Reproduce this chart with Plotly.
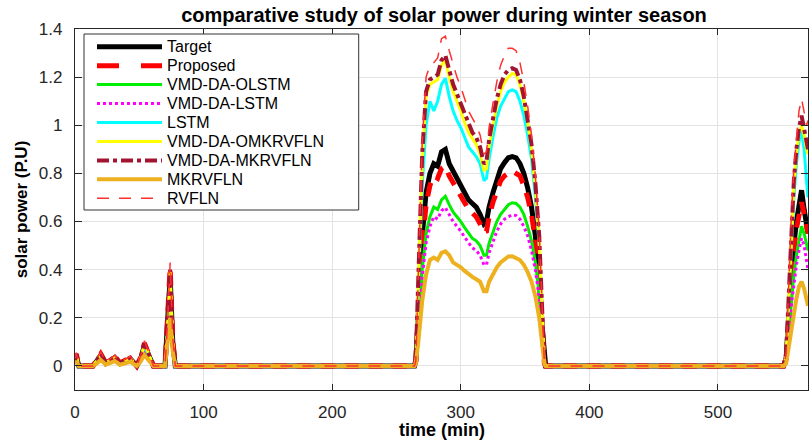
import plotly.graph_objects as go

# ---------------- data ----------------
time_min = [0, 1, 3, 14, 17, 20, 24, 27, 31, 35, 39, 43, 48, 51, 54, 57, 61, 70, 72, 74, 76, 78,
            264, 265, 267, 270, 273, 276, 279, 282, 285, 288,
            291, 294, 297, 300, 303, 306, 309, 312, 315, 318,
            320, 322, 325, 328, 331, 334, 337, 340, 343, 346,
            349, 352, 355, 358, 361, 363, 365, 366,
            551, 553, 555, 557, 559, 561, 563, 565, 567, 569, 570]

target = [0.02, 0.04, 0.0, 0.0, 0.02, 0.045, 0.01, 0.02, 0.035, 0.01, 0.02, 0.03, 0.0, 0.03, 0.085, 0.05, 0.0, 0.0, 0.15, 0.37, 0.10, 0.0,
          0, 0.02, 0.22, 0.54, 0.72, 0.80, 0.84, 0.83, 0.89, 0.90,
          0.84, 0.81, 0.78, 0.76, 0.72, 0.69, 0.675, 0.66, 0.63, 0.59,
          0.60, 0.66, 0.72, 0.78, 0.82, 0.845, 0.865, 0.87, 0.865, 0.84,
          0.80, 0.74, 0.66, 0.54, 0.38, 0.18, 0.01, 0,
          0, 0.03, 0.20, 0.38, 0.50, 0.60, 0.68, 0.73, 0.65, 0.58, 0.55]

proposed = [0.02, 0.05, 0.0, 0.0, 0.025, 0.05, 0.012, 0.022, 0.04, 0.012, 0.022, 0.035, 0.0, 0.035, 0.095, 0.055, 0.0, 0.0, 0.17, 0.41, 0.11, 0.0,
            0, 0.02, 0.20, 0.50, 0.67, 0.75, 0.79, 0.78, 0.82, 0.83,
            0.79, 0.76, 0.73, 0.71, 0.68, 0.65, 0.635, 0.62, 0.59, 0.555,
            0.56, 0.62, 0.68, 0.73, 0.77, 0.79, 0.80, 0.81, 0.80, 0.79,
            0.75, 0.70, 0.63, 0.52, 0.37, 0.17, 0.01, 0,
            0, 0.03, 0.19, 0.36, 0.48, 0.57, 0.64, 0.68, 0.63, 0.57, 0.55]

vmd_da_olstm = [0.01, 0.03, 0.0, 0.0, 0.015, 0.035, 0.008, 0.015, 0.028, 0.008, 0.015, 0.024, 0.0, 0.025, 0.065, 0.04, 0.0, 0.0, 0.12, 0.30, 0.08, 0.0,
                0, 0.01, 0.15, 0.40, 0.55, 0.62, 0.66, 0.65, 0.69, 0.705,
                0.67, 0.64, 0.62, 0.60, 0.575, 0.55, 0.53, 0.52, 0.50, 0.46,
                0.46, 0.51, 0.56, 0.60, 0.63, 0.65, 0.67, 0.678, 0.675, 0.66,
                0.63, 0.58, 0.52, 0.43, 0.30, 0.15, 0.01, 0,
                0, 0.02, 0.14, 0.28, 0.38, 0.46, 0.53, 0.58, 0.55, 0.50, 0.48]

vmd_da_lstm = [0.01, 0.03, 0.0, 0.0, 0.014, 0.032, 0.007, 0.014, 0.026, 0.007, 0.014, 0.022, 0.0, 0.023, 0.06, 0.036, 0.0, 0.0, 0.11, 0.28, 0.07, 0.0,
               0, 0.01, 0.13, 0.37, 0.51, 0.58, 0.62, 0.61, 0.645, 0.658,
               0.63, 0.60, 0.58, 0.56, 0.535, 0.51, 0.49, 0.48, 0.46, 0.42,
               0.42, 0.47, 0.52, 0.56, 0.59, 0.61, 0.62, 0.628, 0.625, 0.61,
               0.58, 0.54, 0.48, 0.40, 0.28, 0.14, 0.01, 0,
               0, 0.02, 0.12, 0.25, 0.34, 0.42, 0.48, 0.53, 0.50, 0.43, 0.40]

lstm = [0.02, 0.04, 0.0, 0.0, 0.02, 0.045, 0.01, 0.02, 0.035, 0.01, 0.02, 0.03, 0.0, 0.03, 0.085, 0.05, 0.0, 0.0, 0.15, 0.36, 0.10, 0.0,
        0, 0.02, 0.30, 0.75, 1.00, 1.10, 1.06, 1.10, 1.17, 1.195,
        1.12, 1.06, 1.02, 0.99, 0.95, 0.91, 0.89, 0.87, 0.84, 0.77,
        0.78, 0.86, 0.95, 1.03, 1.08, 1.11, 1.14, 1.147, 1.14, 1.10,
        1.04, 0.96, 0.86, 0.70, 0.50, 0.25, 0.01, 0,
        0, 0.04, 0.28, 0.52, 0.70, 0.84, 0.93, 0.98, 0.90, 0.76, 0.70]

vmd_da_omkrvfln = [0.02, 0.045, 0.0, 0.0, 0.022, 0.05, 0.012, 0.022, 0.038, 0.012, 0.022, 0.033, 0.0, 0.033, 0.09, 0.055, 0.0, 0.0, 0.16, 0.39, 0.11, 0.0,
                   0, 0.02, 0.35, 0.85, 1.12, 1.17, 1.18, 1.19, 1.25, 1.27,
                   1.20, 1.14, 1.10, 1.06, 1.01, 0.97, 0.945, 0.92, 0.88, 0.81,
                   0.82, 0.91, 1.00, 1.08, 1.14, 1.18, 1.20, 1.215, 1.21, 1.17,
                   1.10, 1.01, 0.90, 0.74, 0.52, 0.26, 0.01, 0,
                   0, 0.04, 0.30, 0.56, 0.75, 0.88, 0.97, 1.00, 0.96, 0.90, 0.88]

vmd_da_mkrvfln = [0.02, 0.05, 0.0, 0.0, 0.024, 0.052, 0.012, 0.023, 0.04, 0.012, 0.023, 0.035, 0.0, 0.035, 0.095, 0.057, 0.0, 0.0, 0.17, 0.40, 0.11, 0.0,
                  0, 0.02, 0.37, 0.88, 1.14, 1.19, 1.20, 1.21, 1.27, 1.29,
                  1.23, 1.17, 1.13, 1.09, 1.04, 1.00, 0.97, 0.95, 0.91, 0.84,
                  0.85, 0.94, 1.03, 1.11, 1.17, 1.21, 1.23, 1.237, 1.23, 1.19,
                  1.12, 1.03, 0.92, 0.76, 0.54, 0.27, 0.01, 0,
                  0, 0.05, 0.32, 0.58, 0.77, 0.90, 0.99, 1.04, 0.98, 0.92, 0.90]

mkrvfln = [0.01, 0.02, 0.0, 0.0, 0.01, 0.025, 0.005, 0.01, 0.02, 0.005, 0.01, 0.017, 0.0, 0.018, 0.045, 0.028, 0.0, 0.0, 0.09, 0.20, 0.06, 0.0,
           0, 0.01, 0.10, 0.27, 0.38, 0.44, 0.45, 0.44, 0.47, 0.476,
           0.46, 0.43, 0.42, 0.41, 0.395, 0.38, 0.37, 0.36, 0.35, 0.31,
           0.31, 0.35, 0.38, 0.41, 0.43, 0.445, 0.455, 0.456, 0.45, 0.44,
           0.42, 0.39, 0.35, 0.29, 0.20, 0.10, 0.01, 0,
           0, 0.01, 0.08, 0.16, 0.22, 0.28, 0.33, 0.35, 0.32, 0.27, 0.25]

rvfln = [0.03, 0.055, 0.0, 0.0, 0.028, 0.06, 0.014, 0.026, 0.045, 0.014, 0.026, 0.04, 0.0, 0.04, 0.105, 0.062, 0.0, 0.0, 0.18, 0.43, 0.12, 0.0,
         0, 0.02, 0.40, 0.93, 1.20, 1.25, 1.26, 1.28, 1.36, 1.37,
         1.31, 1.25, 1.20, 1.16, 1.11, 1.06, 1.03, 1.00, 0.96, 0.88,
         0.89, 0.99, 1.09, 1.18, 1.25, 1.29, 1.32, 1.32, 1.31, 1.26,
         1.18, 1.08, 0.96, 0.79, 0.56, 0.28, 0.01, 0,
         0, 0.05, 0.34, 0.62, 0.82, 0.96, 1.06, 1.11, 1.05, 1.00, 1.02]

series_names = ["Target", "Proposed", "VMD-DA-OLSTM", "VMD-DA-LSTM", "LSTM",
                "VMD-DA-OMKRVFLN", "VMD-DA-MKRVFLN", "MKRVFLN", "RVFLN"]
series_values = [target, proposed, vmd_da_olstm, vmd_da_lstm, lstm,
                 vmd_da_omkrvfln, vmd_da_mkrvfln, mkrvfln, rvfln]

x_ticks = [0, 100, 200, 300, 400, 500]
y_ticks = [0, 0.2, 0.4, 0.6, 0.8, 1, 1.2, 1.4]

# ---------------- styles ----------------
styles = [
    dict(color="#000000", width=5, dash="solid"),
    dict(color="#FF0000", width=5, dash="14px,10px"),
    dict(color="#00EE00", width=3, dash="solid"),
    dict(color="#FF00FF", width=3, dash="dot"),
    dict(color="#00FFFF", width=3, dash="solid"),
    dict(color="#FFFF00", width=3, dash="solid"),
    dict(color="#A2142F", width=4, dash="dashdot"),
    dict(color="#EDB120", width=4, dash="solid"),
    dict(color="#FF3030", width=1.5, dash="12px,10px"),
]
legend_dash = ["solid", "22px,22px", "solid", "dot", "solid", "solid", "dashdot", "solid", "12px,10px"]

FONT = "Liberation Sans, Arial, sans-serif"
W, H = 810, 441
L, R, T, B = 75, 2, 29, 51
pw, ph = W - L - R, H - T - B

def px(xp):
    return (xp - L) / pw

def py(yp):
    return (H - B - yp) / ph

fig = go.Figure()
for name, vals, st in zip(series_names, series_values, styles):
    fig.add_trace(go.Scatter(x=time_min, y=vals, mode="lines", name=name,
                             line=dict(color=st["color"], width=st["width"], dash=st["dash"]),
                             showlegend=False))

# manual legend (MATLAB-like long samples)
shapes = [dict(type="rect", xref="paper", yref="paper",
               x0=px(84), x1=px(358.7), y0=py(210), y1=py(34),
               line=dict(color="#333333", width=1), fillcolor="white", layer="above")]
annotations = []
for i, (name, st, ld) in enumerate(zip(series_names, styles, legend_dash)):
    yy = 46.7 + 18.95 * i
    shapes.append(dict(type="line", xref="paper", yref="paper",
                       x0=px(97), x1=px(162), y0=py(yy), y1=py(yy),
                       line=dict(color=st["color"], width=st["width"], dash=ld),
                       layer="above"))
    annotations.append(dict(xref="paper", yref="paper", x=px(165), y=py(yy),
                            text=name, showarrow=False, xanchor="left", yanchor="middle",
                            font=dict(family=FONT, size=16, color="#000000")))

# x-axis title placed under the tick labels
annotations.append(dict(xref="paper", yref="paper", x=0.5, y=py(430),
                        text="<b>time (min)</b>", showarrow=False,
                        xanchor="center", yanchor="middle",
                        font=dict(family=FONT, size=18, color="#000000")))

fig.update_layout(
    width=W, height=H,
    margin=dict(l=L, r=R, t=T, b=B),
    paper_bgcolor="white", plot_bgcolor="white",
    title=dict(text="<b>comparative study of solar power during winter season</b>",
               x=444 / W, xref="container", xanchor="center", y=1 - 15 / H, yanchor="middle",
               font=dict(family=FONT, size=20, color="#000000")),
    shapes=shapes, annotations=annotations,
    font=dict(family=FONT, size=17, color="#262626"),
)
fig.update_xaxes(range=[0, 570], tickvals=x_ticks, ticks="inside", ticklen=6, tickcolor="#262626",
                 showline=True, linecolor="#262626", linewidth=1.2, mirror="allticks",
                 showgrid=True, gridcolor="#e3e3e3", gridwidth=1, zeroline=False,
                 ticklabelstandoff=6)
fig.update_yaxes(range=[-0.1, 1.4], tickvals=y_ticks, ticks="inside", ticklen=7, tickcolor="#262626",
                 showline=True, linecolor="#262626", linewidth=1.2, mirror="allticks",
                 showgrid=True, gridcolor="#e3e3e3", gridwidth=1, zeroline=False,
                 ticklabelstandoff=8,
                 title=dict(text="<b>solar power (P.U)</b>", standoff=6,
                            font=dict(family=FONT, size=17, color="#000000")))

fig.write_html("out.html")
